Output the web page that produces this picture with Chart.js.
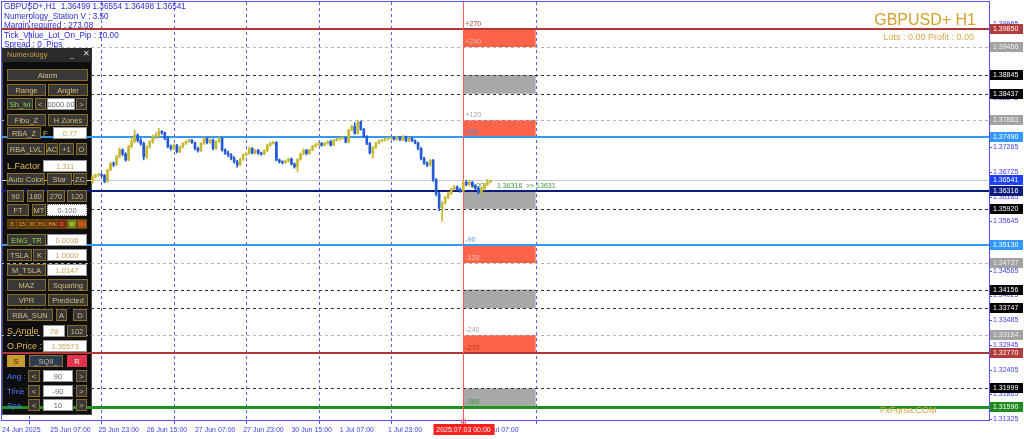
<!DOCTYPE html>
<html>
<head>
<meta charset="utf-8">
<script src="https://cdn.jsdelivr.net/npm/chart.js@4.4.1/dist/chart.umd.min.js"></script>
<style>
html, body { margin: 0; padding: 0; background: #fff; }
#wrap { position: relative; width: 1024px; height: 439px; overflow: hidden; font-family: "Liberation Sans", Arial, sans-serif; }
#wrap canvas { position: absolute; left: 0; top: 0; }
.info { position: absolute; left: 4px; top: 2px; font-size: 8.2px; line-height: 9.6px; color: #2b2bd6; white-space: pre; }
.sym { position: absolute; right: 48px; top: 11px; font-size: 16px; color: #d4a22a; }
.lots { position: absolute; right: 50px; top: 32px; font-size: 9px; color: #d4a84a; }
.brand { position: absolute; left: 880px; top: 405px; font-size: 9px; color: #d9a441; }
.p { position: absolute; box-sizing: border-box; display: flex; align-items: center; justify-content: center; font-size: 7.5px; white-space: nowrap; overflow: hidden; }
.btn { background: #383838; border: 1px solid #8c6d1f; color: #d6bc78; }
.btn.g { color: #8fd44a; }
.btn.sgold { background: #c99a2e; color: #3a2a00; border-color: #c99a2e; }
.btn.sq { background: #2b3d52; color: #d6bc78; }
.btn.sred { background: #e5334b; color: #fff; border-color: #e5334b; }
.inp { background: #fff; border: 1px solid #9a9a9a; color: #c9a55a; }
.inp.dk { color: #666; }
.inp.dot { border: 1px dotted #777; color: #777; }
.lbl { color: #e8b84a; font-size: 9px; justify-content: flex-start; }
.lbl.f { font-size: 8px; }
.lbl.b { color: #4f78ff; font-size: 8px; }
.tf { border: 1px solid #6a4a10; font-size: 5.5px; }
.hdr { position: absolute; left: 2px; top: 48px; width: 90px; height: 14px; background: #2b2b2b; }
.hdr span { position: absolute; top: 2px; font-size: 7.5px; }
</style>
</head>
<body>
<div id="wrap">
  <canvas id="chart" width="1024" height="439"></canvas>
  <div class="info">GBPUSD+,H1  1.36499 1.36554 1.36498 1.36541
Numerology_Station V : 3.50
Margin required : 273.08
Tick_Value_Lot_On_Pip : 10.00
Spread : 0  Pips</div>
  <div class="sym">GBPUSD+ H1</div>
  <div class="lots">Lots : 0.00 Profit : 0.00</div>
  <div class="brand">FxForsa.COM</div>
  <div class="hdr"><span style="left:5px;color:#c9a24a">Numerology</span><span style="left:68px;color:#ddd">_</span><span style="left:81px;color:#ddd;font-size:8px;top:1px">✕</span></div>
  <div id="panel"></div>
</div>
<script>
// bar number = hours counted from 24 Jun 15:00 (weekend skipped)
const firstBar = 30;
const opens = [
  1.3651, 1.3662, 1.3666, 1.3667, 1.3665, 1.3652, 1.3677, 1.3691, 1.3689, 1.3706,
  1.3721, 1.3712, 1.3699, 1.3728, 1.3739, 1.3753, 1.3742, 1.3735, 1.3706, 1.3728,
  1.3739, 1.3750, 1.3753, 1.3761, 1.3758, 1.3746, 1.3728, 1.3724, 1.3731, 1.3717,
  1.3727, 1.3735, 1.3739, 1.3742, 1.3737, 1.3724, 1.3719, 1.3735, 1.3746, 1.3737,
  1.3742, 1.3724, 1.3739, 1.3746, 1.3721, 1.3714, 1.3710, 1.3703, 1.3695, 1.3688,
  1.3700, 1.3710, 1.3713, 1.3724, 1.3714, 1.3720, 1.3713, 1.3712, 1.3719, 1.3731,
  1.3735, 1.3737, 1.3699, 1.3695, 1.3693, 1.3697, 1.3701, 1.3690, 1.3684, 1.3700,
  1.3712, 1.3720, 1.3713, 1.3721, 1.3729, 1.3732, 1.3735, 1.3731, 1.3735, 1.3739,
  1.3731, 1.3742, 1.3744, 1.3746, 1.3747, 1.3738, 1.3764, 1.3772, 1.3757, 1.3782,
  1.3766, 1.3750, 1.3735, 1.3714, 1.3726, 1.3736, 1.3740, 1.3742, 1.3744, 1.3746,
  1.3747, 1.3744, 1.3748, 1.3743, 1.3749, 1.3741, 1.3746, 1.3741, 1.3736, 1.3724,
  1.3702, 1.3692, 1.3688, 1.3698, 1.3656, 1.3625, 1.3595, 1.3605, 1.3617, 1.3626,
  1.3635, 1.3640, 1.3634, 1.3631, 1.3650, 1.3645, 1.3650, 1.3642, 1.3637, 1.3628,
  1.3636, 1.3645, 1.36499
];
const highs = [
  1.3665, 1.3668, 1.3670, 1.3669, 1.3667, 1.3679, 1.3694, 1.3695, 1.3709, 1.3725,
  1.3723, 1.3715, 1.3731, 1.3748, 1.3764, 1.3756, 1.3746, 1.3738, 1.3730, 1.3741,
  1.3753, 1.3758, 1.3768, 1.3763, 1.3760, 1.3750, 1.3732, 1.3734, 1.3733, 1.3729,
  1.3737, 1.3741, 1.3745, 1.3744, 1.3738, 1.3727, 1.3737, 1.3749, 1.3748, 1.3745,
  1.3745, 1.3741, 1.3749, 1.3748, 1.3723, 1.3718, 1.3713, 1.3706, 1.3698, 1.3703,
  1.3712, 1.3716, 1.3727, 1.3726, 1.3722, 1.3722, 1.3716, 1.3721, 1.3733, 1.3738,
  1.3740, 1.3739, 1.3701, 1.3697, 1.3699, 1.3703, 1.3703, 1.3692, 1.3702, 1.3714,
  1.3723, 1.3722, 1.3723, 1.3731, 1.3735, 1.3738, 1.3737, 1.3737, 1.3741, 1.3742,
  1.3744, 1.3746, 1.3748, 1.3749, 1.3749, 1.3766, 1.3775, 1.3780, 1.3786, 1.3784,
  1.3768, 1.3752, 1.3737, 1.3728, 1.3738, 1.3742, 1.3744, 1.3746, 1.3748, 1.3749,
  1.3749, 1.3750, 1.3750, 1.3752, 1.3751, 1.3748, 1.3748, 1.3743, 1.3738, 1.3726,
  1.3705, 1.3695, 1.3700, 1.3700, 1.3658, 1.3628, 1.3608, 1.3620, 1.3629, 1.3638,
  1.3643, 1.3642, 1.3637, 1.3654, 1.3654, 1.3653, 1.3652, 1.3645, 1.3640, 1.3639,
  1.3648, 1.3656, 1.36554
];
const lows = [
  1.3648, 1.3659, 1.3663, 1.3661, 1.3649, 1.3650, 1.3675, 1.3684, 1.3686, 1.3703,
  1.3708, 1.3696, 1.3697, 1.3725, 1.3736, 1.3738, 1.3731, 1.3699, 1.3702, 1.3724,
  1.3735, 1.3745, 1.3750, 1.3755, 1.3743, 1.3725, 1.3720, 1.3721, 1.3714, 1.3715,
  1.3725, 1.3732, 1.3737, 1.3735, 1.3721, 1.3716, 1.3717, 1.3733, 1.3734, 1.3735,
  1.3721, 1.3722, 1.3737, 1.3718, 1.3711, 1.3706, 1.3699, 1.3692, 1.3683, 1.3686,
  1.3698, 1.3708, 1.3711, 1.3712, 1.3712, 1.3711, 1.3709, 1.3710, 1.3717, 1.3729,
  1.3733, 1.3697, 1.3692, 1.3690, 1.3691, 1.3694, 1.3688, 1.3681, 1.3673, 1.3698,
  1.3710, 1.3710, 1.3711, 1.3719, 1.3727, 1.3730, 1.3729, 1.3729, 1.3733, 1.3729,
  1.3730, 1.3740, 1.3742, 1.3744, 1.3736, 1.3736, 1.3762, 1.3755, 1.3755, 1.3764,
  1.3748, 1.3732, 1.3712, 1.3703, 1.3724, 1.3734, 1.3738, 1.3740, 1.3742, 1.3744,
  1.3742, 1.3742, 1.3741, 1.3741, 1.3738, 1.3739, 1.3739, 1.3734, 1.3721, 1.3699,
  1.3689, 1.3684, 1.3685, 1.3652, 1.3620, 1.3588, 1.3565, 1.3602, 1.3614, 1.3623,
  1.3633, 1.3632, 1.3628, 1.3629, 1.3642, 1.3643, 1.3640, 1.3634, 1.3625, 1.3625,
  1.3633, 1.3643, 1.36498
];
const closes = [
  1.3662, 1.3666, 1.3667, 1.3665, 1.3652, 1.3677, 1.3691, 1.3689, 1.3706, 1.3721,
  1.3712, 1.3699, 1.3728, 1.3739, 1.3753, 1.3742, 1.3735, 1.3706, 1.3728, 1.3739,
  1.3750, 1.3753, 1.3761, 1.3758, 1.3746, 1.3728, 1.3724, 1.3731, 1.3717, 1.3727,
  1.3735, 1.3739, 1.3742, 1.3737, 1.3724, 1.3719, 1.3735, 1.3746, 1.3737, 1.3742,
  1.3724, 1.3739, 1.3746, 1.3721, 1.3714, 1.3710, 1.3703, 1.3695, 1.3688, 1.3700,
  1.3710, 1.3713, 1.3724, 1.3714, 1.3720, 1.3713, 1.3712, 1.3719, 1.3731, 1.3735,
  1.3737, 1.3699, 1.3695, 1.3693, 1.3697, 1.3701, 1.3690, 1.3684, 1.3700, 1.3712,
  1.3720, 1.3713, 1.3721, 1.3729, 1.3732, 1.3735, 1.3731, 1.3735, 1.3739, 1.3731,
  1.3742, 1.3744, 1.3746, 1.3747, 1.3738, 1.3764, 1.3772, 1.3757, 1.3782, 1.3766,
  1.3750, 1.3735, 1.3714, 1.3726, 1.3736, 1.3740, 1.3742, 1.3744, 1.3746, 1.3747,
  1.3744, 1.3748, 1.3743, 1.3749, 1.3741, 1.3746, 1.3741, 1.3736, 1.3724, 1.3702,
  1.3692, 1.3688, 1.3698, 1.3656, 1.3625, 1.3595, 1.3605, 1.3617, 1.3626, 1.3635,
  1.3640, 1.3634, 1.3631, 1.3650, 1.3645, 1.3650, 1.3642, 1.3637, 1.3628, 1.3636,
  1.3645, 1.3650, 1.36541
];

const timeLabelBars = [0, 16, 32, 48, 64, 80, 96, 112, 128, 144, 160];
const timeLabels = ['24 Jun 2025', '25 Jun 07:00', '25 Jun 23:00', '26 Jun 15:00', '27 Jun 07:00', '27 Jun 23:00',
  '30 Jun 15:00', '1 Jul 07:00', '1 Jul 23:00', '2 Jul 15:00', '3 Jul 07:00'];
const daySeparators = [9, 33, 57, 81, 105, 129, 153, 177];
const priceTicks = [1.39965, 1.39425, 1.38885, 1.38345, 1.37805, 1.37265, 1.36725, 1.36185, 1.35645,
  1.35105, 1.34565, 1.34025, 1.33485, 1.32945, 1.32405, 1.31865, 1.31325];

const redLevels = [1.39850, 1.32770];
const blueLevels = [1.37490, 1.35130];
const navyLevel = 1.36316;
const greenLevel = 1.31590;
const blackLevels = [1.38845, 1.38437, 1.35920, 1.34156, 1.33747, 1.31999];
const grayLevels = [1.39456, 1.37863, 1.34737, 1.33164];
const bidPrice = 1.36541;

const redZones = [[1.39850, 1.39456], [1.37863, 1.37490], [1.35130, 1.34737], [1.33164, 1.32770]];
const grayZones = [[1.38845, 1.38437], [1.36316, 1.35920], [1.34156, 1.33747], [1.31999, 1.31590]];
const zoneFrom = 153, zoneTo = 177;
const vLineBar = 153;
const vLineText = '2025.07.03 00:00';
const zoneTexts = ['+270', '+240', '+120', '+90', '-90', '-120', '-240', '-270', '-360'];
const zoneTextLevels = [1.39850, 1.39456, 1.37863, 1.37490, 1.35130, 1.34737, 1.33164, 1.32770, 1.31590];
const zoneTextColors = ['#b84040', '#c8c0b8', '#a8a8a8', '#3a8cf0', '#4aa0ff', '#e8c8c0', '#a8a8a8', '#a83030', '#2e9a2e'];

const BULL = '#c8b830', BEAR = '#2259d6', AXIS = '#3d3df0';

const candles = opens.map((o, k) => ({ bar: firstBar + k, o, h: highs[k], l: lows[k], c: closes[k] }));

const levelPlugin = {
  id: 'levels',
  beforeDatasetsDraw(chart) {
    const { ctx, chartArea: a, scales: { x, y } } = chart;
    const X = v => x.getPixelForValue(v);
    const Y = v => y.getPixelForValue(v);
    const hline = (p, color, w, dash) => {
      ctx.beginPath();
      ctx.setLineDash(dash || []);
      ctx.strokeStyle = color;
      ctx.lineWidth = w;
      const yy = w % 2 ? Math.round(Y(p)) + 0.5 : Math.round(Y(p));
      ctx.moveTo(a.left, yy);
      ctx.lineTo(a.right, yy);
      ctx.stroke();
    };
    ctx.save();
    // day separators
    ctx.strokeStyle = '#5d5df2';
    ctx.lineWidth = 1;
    ctx.setLineDash([3, 3]);
    daySeparators.forEach(b => {
      const xx = Math.round(X(b)) + 0.5;
      ctx.beginPath(); ctx.moveTo(xx, a.top); ctx.lineTo(xx, a.bottom); ctx.stroke();
    });
    ctx.setLineDash([]);
    // panel backdrop
    ctx.fillStyle = '#0e0e0e';
    ctx.fillRect(2, 48, 90, 367);
    ctx.strokeStyle = '#4a4a4a';
    ctx.strokeRect(2.5, 48.5, 89, 366);
    // zones
    const x0 = X(zoneFrom), x1 = X(zoneTo);
    ctx.fillStyle = '#ff6448';
    redZones.forEach(([hi, lo]) => ctx.fillRect(x0, Y(hi), x1 - x0, Y(lo) - Y(hi)));
    ctx.fillStyle = '#a8a8a8';
    grayZones.forEach(([hi, lo]) => ctx.fillRect(x0, Y(hi), x1 - x0, Y(lo) - Y(hi)));
    // levels
    grayLevels.forEach(p => hline(p, '#b0b0b0', 1, [3, 3]));
    blackLevels.forEach(p => hline(p, '#333', 1, [3, 3]));
    hline(bidPrice, '#c8c8c8', 1);
    redLevels.forEach(p => hline(p, '#b03838', 2));
    blueLevels.forEach(p => hline(p, '#3399ff', 2));
    hline(navyLevel, '#0c1c7e', 2);
    hline(greenLevel, '#1e941e', 3);
    // vertical time line
    const vx = Math.round(X(vLineBar)) + 0.5;
    ctx.setLineDash([]);
    ctx.strokeStyle = '#ff5a5a';
    ctx.lineWidth = 1;
    ctx.beginPath(); ctx.moveTo(vx, a.top); ctx.lineTo(vx, a.bottom + 3); ctx.stroke();
    // zone texts
    ctx.font = '7px "Liberation Sans", Arial';
    ctx.textAlign = 'left';
    ctx.textBaseline = 'bottom';
    zoneTexts.forEach((t, k) => {
      ctx.fillStyle = zoneTextColors[k];
      ctx.fillText(t, vx + 2, Y(zoneTextLevels[k]) - 1);
    });
    ctx.fillStyle = '#3a9a3a';
    ctx.textBaseline = 'middle';
    ctx.fillText('0.00!', vx + 7, Y(navyLevel) - 5);
    ctx.fillText('1.36316', 497, Y(navyLevel) - 5);
    ctx.fillText('>> 13631', 526, Y(navyLevel) - 5);
    ctx.restore();
  },
  afterDraw(chart) {
    const { ctx, chartArea: a, scales: { x, y } } = chart;
    ctx.save();
    // frame
    ctx.strokeStyle = '#5252f5';
    ctx.lineWidth = 1;
    ctx.strokeRect(a.left + 0.5, a.top - 0.5, a.right - a.left, a.bottom - a.top + 1);
    // axis tick marks
    ctx.beginPath();
    priceTicks.forEach(p => {
      const yy = Math.round(y.getPixelForValue(p)) + 0.5;
      ctx.moveTo(a.right, yy); ctx.lineTo(a.right + 3, yy);
    });
    daySeparators.forEach(b => {
      const xx = Math.round(x.getPixelForValue(b)) + 0.5;
      ctx.moveTo(xx, a.bottom); ctx.lineTo(xx, a.bottom + 4);
    });
    ctx.stroke();
    // price boxes on the right scale
    const boxes = [
      ...grayLevels.map(p => [p, '#a2a2a2', '#eeeeee']),
      ...blackLevels.map(p => [p, '#000000', '#ffffff']),
      ...redLevels.map(p => [p, '#b33a3a', '#ffffff']),
      ...blueLevels.map(p => [p, '#3399ff', '#ffffff']),
      [bidPrice, '#1e40ff', '#ffffff'],
      [navyLevel, '#0c1c7e', '#ffffff'],
      [greenLevel, '#1e8c1e', '#ffffff']
    ];
    ctx.font = '7px "Liberation Sans", Arial';
    ctx.textAlign = 'left';
    ctx.textBaseline = 'middle';
    boxes.forEach(([p, bg, fg]) => {
      const cy = Math.round(y.getPixelForValue(p));
      ctx.fillStyle = bg;
      ctx.fillRect(a.right + 1, cy - 5, 33, 10);
      ctx.fillStyle = fg;
      ctx.fillText(p.toFixed(5), a.right + 4, cy + 0.5);
    });
    // time box
    const vx = Math.round(x.getPixelForValue(vLineBar)) + 0.5;
    ctx.fillStyle = '#ff2020';
    ctx.fillRect(vx - 30, a.bottom + 4, 61, 11);
    ctx.fillStyle = '#ffffff';
    ctx.textAlign = 'center';
    ctx.fillText(vLineText, vx, a.bottom + 10);
    ctx.strokeStyle = '#ff5a5a';
    ctx.strokeRect(vx - 2, a.bottom, 4, 3);
    ctx.restore();
  }
};

new Chart(document.getElementById('chart'), {
  type: 'bar',
  data: {
    datasets: [
      {
        label: 'body',
        data: candles.map(k => ({ x: k.bar, y: [k.o, k.c] })),
        backgroundColor: candles.map(k => k.c >= k.o ? BULL : BEAR),
        barThickness: 2,
        minBarLength: 1,
        grouped: false,
        order: 1
      },
      {
        label: 'wick',
        data: candles.map(k => ({ x: k.bar, y: [k.l, k.h] })),
        backgroundColor: candles.map(k => k.c >= k.o ? BULL : BEAR),
        barThickness: 1,
        minBarLength: 1,
        grouped: false,
        order: 2
      }
    ]
  },
  options: {
    responsive: false,
    devicePixelRatio: 1,
    animation: false,
    layout: { padding: { left: 1, top: 2, right: 0, bottom: 0 } },
    plugins: { legend: { display: false }, tooltip: { enabled: false } },
    scales: {
      x: {
        type: 'linear',
        offset: false,
        min: -0.33,
        max: 327.36,
        grid: { display: false, drawTicks: false, offset: false },
        border: { display: false },
        afterBuildTicks: s => { s.ticks = timeLabelBars.map(v => ({ value: v })); },
        afterFit: s => { s.height = 19; s.paddingLeft = 0; s.paddingRight = 0; },
        ticks: {
          autoSkip: false,
          maxRotation: 0,
          align: 'start',
          padding: 6,
          color: AXIS,
          font: { size: 7, family: '"Liberation Sans", Arial' },
          callback: v => timeLabels[timeLabelBars.indexOf(v)] || ''
        }
      },
      y: {
        position: 'right',
        min: 1.313056,
        max: 1.404402,
        grid: { display: false, drawTicks: false },
        border: { display: false },
        afterBuildTicks: s => { s.ticks = priceTicks.map(v => ({ value: v })); },
        afterFit: s => { s.width = 35; s.paddingTop = 0; s.paddingBottom = 0; },
        ticks: {
          autoSkip: false,
          padding: 4,
          color: AXIS,
          font: { size: 7, family: '"Liberation Sans", Arial' },
          callback: v => v.toFixed(5)
        }
      }
    }
  },
  plugins: [levelPlugin]
});

// Numerology panel controls
const panelItems = [
  ['btn', 'Alarm', 7, 69, 81, 12],
  ['btn', 'Range', 7, 84, 39, 12], ['btn', 'Angler', 48, 84, 40, 12],
  ['btn g', 'Sh_lvl', 7, 98, 26, 12], ['btn', '<', 35, 98, 11, 12], ['inp dk', '10000.000', 47, 98, 28, 12], ['btn', '>', 76, 98, 11, 12],
  ['btn', 'Fibo_Z', 7, 114, 39, 12], ['btn', 'H Zones', 48, 114, 40, 12],
  ['btn', 'RBA_Z', 7, 127, 34, 12], ['lbl f', 'F', 43, 127, 8, 12], ['inp', '0.77', 53, 127, 34, 12],
  ['btn', 'RBA_LVL', 7, 143, 38, 12], ['btn', 'AC', 46, 143, 12, 12], ['btn', '+1', 59, 143, 15, 12], ['btn', 'O', 76, 143, 11, 12],
  ['lbl', 'L.Factor :', 7, 160, 36, 12], ['inp', '1.311', 43, 160, 44, 12],
  ['btn', 'Auto Color', 7, 173, 38, 12], ['btn', 'Star', 47, 173, 25, 12], ['btn', 'ZC', 73, 173, 14, 12],
  ['btn', '90', 7, 190, 17, 12], ['btn', '180', 27, 190, 17, 12], ['btn', '270', 47, 190, 18, 12], ['btn', '120', 67, 190, 20, 12],
  ['btn', 'FT', 7, 204, 22, 12], ['btn', 'MT', 32, 204, 14, 12], ['inp dot', '0-100', 47, 204, 40, 12],
  ['btn g', 'ENG_TR', 7, 234, 39, 12], ['inp', '0.0036', 47, 234, 40, 12],
  ['btn', 'TSLA', 7, 249, 25, 12], ['btn', 'K', 33, 249, 13, 12], ['inp', '1.0000', 47, 249, 40, 12],
  ['btn', 'M_TSLA', 7, 264, 39, 12], ['inp', '1.0147', 47, 264, 40, 12],
  ['btn', 'MAZ', 7, 279, 39, 12], ['btn', 'Squaring', 48, 279, 40, 12],
  ['btn', 'VPR', 7, 294, 39, 12], ['btn', 'Predicted', 48, 294, 40, 12],
  ['btn', 'RBA_SUN', 7, 309, 46, 12], ['btn', 'A', 56, 309, 11, 12], ['btn', 'D', 73, 309, 14, 12],
  ['lbl', 'S.Angle :', 7, 325, 35, 12], ['inp', '78', 43, 325, 22, 12], ['btn', '102', 67, 325, 20, 12],
  ['lbl', 'O.Price :', 7, 340, 35, 12], ['inp', '1.35573', 43, 340, 44, 12],
  ['btn sgold', 'S', 7, 355, 18, 12], ['btn sq', '_SQ9_', 29, 355, 34, 12], ['btn sred', 'R', 67, 355, 20, 12],
  ['lbl b', 'Ang :', 7, 370, 20, 12], ['btn', '<', 28, 370, 12, 12], ['inp dk', '90', 43, 370, 30, 12], ['btn', '>', 76, 370, 11, 12],
  ['lbl b', 'Time', 7, 385, 20, 12], ['btn', '<', 28, 385, 12, 12], ['inp dk', '-90', 43, 385, 30, 12], ['btn', '>', 76, 385, 11, 12],
  ['lbl b', 'Spa', 7, 399, 20, 12], ['btn', '<', 28, 399, 12, 12], ['inp dk', '10', 43, 399, 30, 12], ['btn', '>', 76, 399, 11, 12]
];
const tfNames = ['5', '15', '30', 'H1', 'H4', 'D', 'W', 'MN'];
const tfBack = ['#5a3a0c', '#5a3a0c', '#5a3a0c', '#5a3a0c', '#6a3a0c', '#7a2a10', '#6c8a1c', '#a2520e'];
const tfText = ['#e8a030', '#e8a030', '#e8a030', '#e8a030', '#f0b030', '#ff6a3a', '#f0e040', '#ff4a30'];

const panel = document.getElementById('panel');
const place = (cls, text, x, y, w, h, extra) => {
  const d = document.createElement('div');
  d.className = 'p ' + cls;
  d.textContent = text;
  d.style.cssText = `left:${x}px;top:${y}px;width:${w}px;height:${h}px;` + (extra || '');
  panel.appendChild(d);
};
panelItems.forEach(([cls, text, x, y, w, h]) => place(cls, text, x, y, w, h));
tfNames.forEach((t, k) => place('tf', t, 7 + k * 10, 219, 10, 10, `background:${tfBack[k]};color:${tfText[k]};`));
</script>
</body>
</html>
